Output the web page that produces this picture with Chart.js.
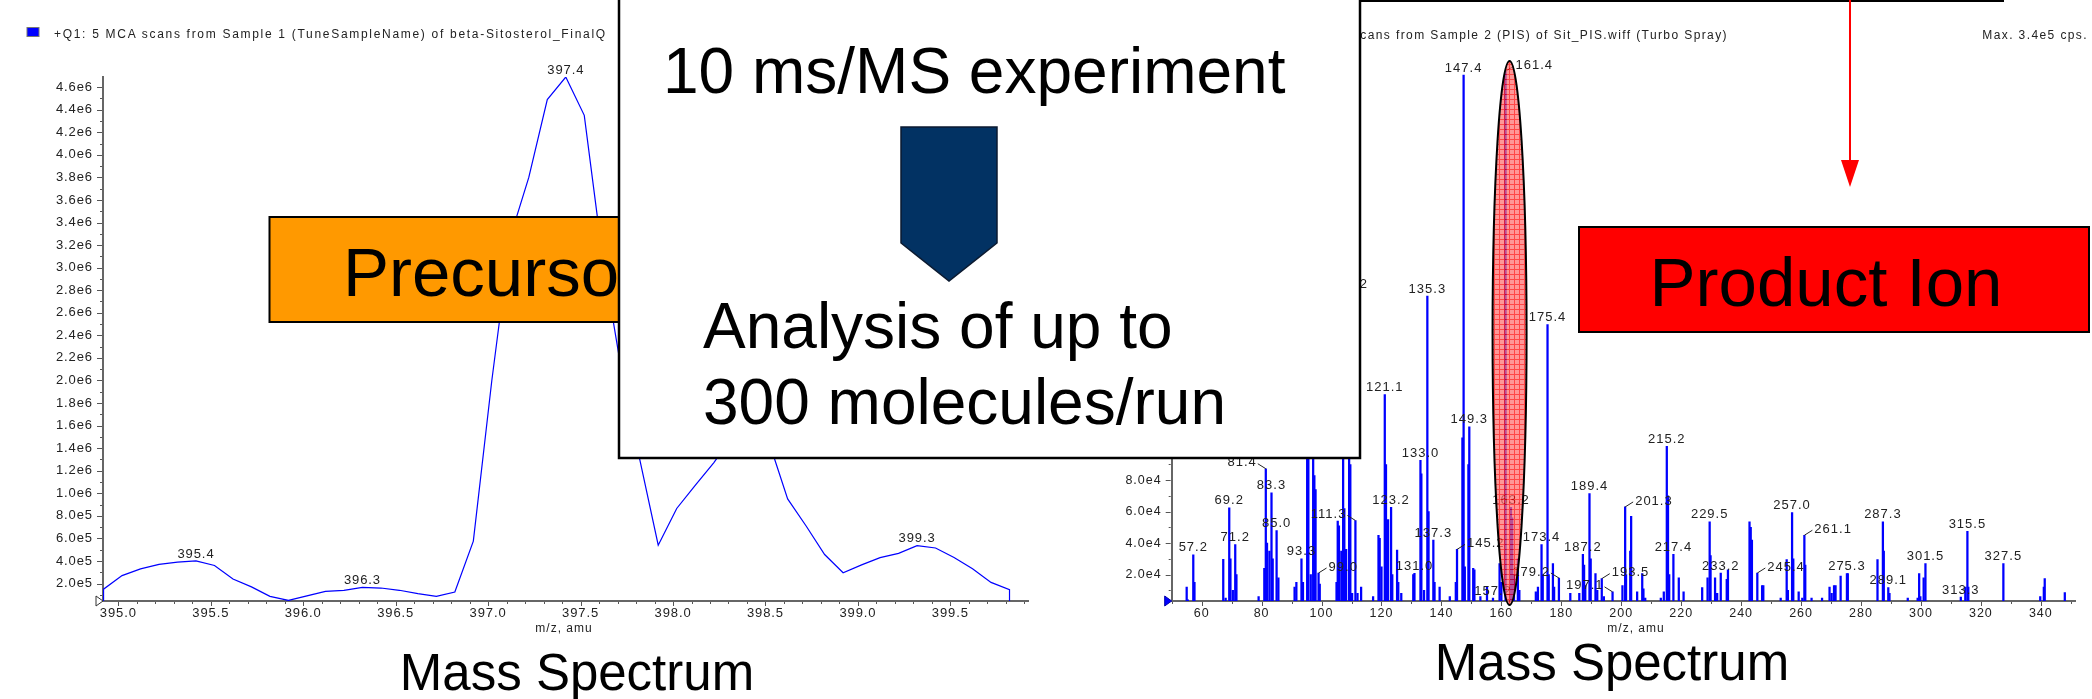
<!DOCTYPE html>
<html>
<head>
<meta charset="utf-8">
<script src="https://cdn.jsdelivr.net/npm/chart.js@4.4.0/dist/chart.umd.min.js"></script>
<style>
  html, body { margin: 0; padding: 0; background: #fff; }
  body { width: 2092px; height: 699px; position: relative; overflow: hidden; }
  canvas { position: absolute; top: 0; }
  #leftChart { left: 0; }
  #rightChart { left: 1050px; }
  #overlay { position: absolute; left: 0; top: 0; pointer-events: none; }
</style>
</head>
<body>
<canvas id="leftChart" width="1050" height="699"></canvas>
<canvas id="rightChart" width="1042" height="699"></canvas>

<svg id="overlay" width="2092" height="699" font-family="Liberation Sans, Arial, sans-serif">
  <!-- headers -->
  <rect x="27" y="27.5" width="12" height="9" fill="#0000ff" stroke="#777" stroke-width="1"/>
  <text x="54" y="37.5" font-size="12" letter-spacing="1.7" fill="#222">+Q1: 5 MCA scans from Sample 1 (TuneSampleName) of beta-Sitosterol_FinalQ</text>
  <text x="1728" y="39" font-size="12" letter-spacing="1.4" fill="#222" text-anchor="end">scans from Sample 2 (PIS) of Sit_PIS.wiff (Turbo Spray)</text>
  <text x="2088" y="39" font-size="12" letter-spacing="1.4" fill="#222" text-anchor="end">Max. 3.4e5 cps.</text>

  <!-- axis titles -->
  <text x="564" y="632" font-size="12" letter-spacing="1" fill="#222" text-anchor="middle">m/z, amu</text>
  <text x="1636" y="632" font-size="12" letter-spacing="1" fill="#222" text-anchor="middle">m/z, amu</text>
  <text x="577" y="690" font-size="51" fill="#000" text-anchor="middle">Mass Spectrum</text>
  <text x="1612" y="680" font-size="51" fill="#000" text-anchor="middle">Mass Spectrum</text>

  <!-- box above the canvas edge and the red arrow -->
  <rect x="1358" y="-1" width="646" height="3" fill="#000"/>
  <line x1="1850" y1="0" x2="1850" y2="164" stroke="#ff0000" stroke-width="2"/>
  <polygon points="1841,160 1859,160 1850,187" fill="#ff0000"/>

  <!-- product ion -->
  <rect x="1579" y="227" width="510" height="105" fill="#ff0000" stroke="#000" stroke-width="2"/>
  <text x="1826" y="306" font-size="69" fill="#000" text-anchor="middle">Product Ion</text>

  <!-- precursor ion -->
  <rect x="269.5" y="217" width="360" height="105" fill="#ff9900" stroke="#000" stroke-width="2"/>
  <text x="343" y="296" font-size="69" fill="#000">Precursor Ion</text>

  <!-- white callout -->
  <rect x="619" y="-10" width="741" height="468" fill="#fff" stroke="#000" stroke-width="2.5"/>
  <text x="663" y="93" font-size="64" fill="#000">10 ms/MS experiment</text>
  <polygon points="901,127 997,127 997,243 949,281 901,243" fill="#023263" stroke="#0b1a30" stroke-width="1.5"/>
  <text x="703" y="348" font-size="64" fill="#000">Analysis of up to</text>
  <text x="703" y="424" font-size="64" fill="#000">300 molecules/run</text>
</svg>

<script>
// ---- left: Q1 scan (profile) ----
const leftMz = [394.92, 394.92, 395.02, 395.12, 395.22, 395.32, 395.42, 395.52, 395.62, 395.72, 395.82,
  395.92, 396.02, 396.12, 396.22, 396.32, 396.42, 396.52, 396.62, 396.72, 396.82,
  396.92, 397.02, 397.12, 397.22, 397.32, 397.42, 397.52, 397.62, 397.72, 397.82,
  397.92, 398.02, 398.12, 398.22, 398.32, 398.42, 398.52, 398.62, 398.72, 398.82,
  398.92, 399.02, 399.12, 399.22, 399.32, 399.42, 399.52, 399.62, 399.72, 399.82, 399.82];
const leftIntensity = [0.045e6, 0.15e6, 0.27e6, 0.33e6, 0.37e6, 0.39e6, 0.40e6, 0.36e6, 0.24e6, 0.17e6, 0.086e6,
  0.05e6, 0.09e6, 0.13e6, 0.14e6, 0.165e6, 0.16e6, 0.14e6, 0.11e6, 0.086e6, 0.125e6,
  0.576e6, 2.0e6, 3.27e6, 3.80e6, 4.49e6, 4.69e6, 4.35e6, 3.08e6, 2.1e6, 1.3e6,
  0.54e6, 0.865e6, 1.07e6, 1.27e6, 1.5e6, 1.55e6, 1.45e6, 0.95e6, 0.71e6, 0.457e6,
  0.295e6, 0.365e6, 0.43e6, 0.467e6, 0.535e6, 0.515e6, 0.43e6, 0.33e6, 0.21e6, 0.145e6, 0.045e6];
const leftPeakMz = [395.42, 396.32, 397.42, 399.32];
const leftPeakText = ['395.4', '396.3', '397.4', '399.3'];
const leftXTicks = [395.0, 395.5, 396.0, 396.5, 397.0, 397.5, 398.0, 398.5, 399.0, 399.5];
const leftYTicks = [2e5, 4e5, 6e5, 8e5, 1.0e6, 1.2e6, 1.4e6, 1.6e6, 1.8e6, 2.0e6, 2.2e6, 2.4e6,
  2.6e6, 2.8e6, 3.0e6, 3.2e6, 3.4e6, 3.6e6, 3.8e6, 4.0e6, 4.2e6, 4.4e6, 4.6e6];

// ---- right: product ion scan (centroid sticks) ----
const rightMz = [55.0, 55.4, 57.2, 57.6, 67.2, 68.0, 69.2, 69.6, 70.4, 71.2, 71.6, 79.0, 80.9, 81.4, 81.8, 82.6,
  83.3, 83.7, 85.0, 85.6, 91.0, 91.6, 93.3, 93.8, 95.2, 95.6, 96.4, 97.2, 97.6, 98.0, 99.0, 99.4,
  105.0, 105.4, 105.8, 106.6, 107.2, 107.6, 108.2, 109.2, 109.6, 110.2, 111.3, 112.0, 113.2, 117.2,
  119.0, 119.4, 120.0, 121.1, 121.5, 122.2, 123.2, 123.6, 125.2, 125.6, 126.6, 130.6, 131.0, 133.0,
  133.3, 134.2, 135.3, 135.7, 137.3, 137.7, 139.4, 142.8, 144.8, 145.2, 147.0, 147.4, 147.8, 149.0,
  149.3, 150.6, 151.0, 153.0, 155.2, 157.2, 159.4, 160.0, 161.4, 163.2, 163.6, 164.2, 165.5, 166.0,
  171.5, 172.2, 173.4, 173.8, 175.4, 175.8, 177.2, 177.6, 179.2, 183.0, 186.0, 187.2, 187.6, 188.0,
  189.4, 189.8, 191.4, 192.0, 193.5, 194.2, 197.1, 200.4, 201.3, 201.6, 203.0, 203.3, 205.3, 207.0,
  207.4, 208.0, 213.2, 214.2, 215.2, 215.6, 216.0, 217.4, 219.2, 220.8, 227.0, 228.8, 229.5, 229.8,
  231.3, 232.0, 233.2, 235.2, 235.6, 242.8, 243.2, 243.6, 245.4, 247.0, 247.4, 253.2, 255.2, 255.6,
  257.0, 257.4, 259.2, 260.4, 261.1, 261.4, 263.5, 267.0, 269.5, 270.2, 271.0, 271.5, 273.2, 275.3,
  275.6, 285.5, 287.3, 287.6, 289.1, 289.5, 295.6, 298.9, 299.4, 299.8, 300.9, 301.5, 313.3, 314.8,
  315.5, 315.8, 327.5, 339.8, 341.0, 341.3, 348.0];
const rightIntensity = [1.2e4, 0.4e4, 3.25e4, 1.5e4, 2.97e4, 0.5e4, 6.24e4, 3.0e4, 1.0e4, 3.9e4, 2.0e4, 0.6e4, 2.4e4, 8.73e4, 4.0e4, 3.5e4,
  7.2e4, 3.0e4, 4.8e4, 1.8e4, 1.2e4, 1.5e4, 3.0e4, 1.5e4, 1.6e5, 1.0e5, 2.0e4, 1.35e5, 8.3e4, 7.4e4, 2.1e4, 1.4e4,
  1.5e4, 5.4e4, 5.1e4, 3.5e4, 1.2e5, 6.2e4, 3.6e4, 2.0e5, 9.0e4, 0.8e4, 5.44e4, 0.8e4, 1.2e4, 0.6e4,
  4.5e4, 4.3e4, 2.5e4, 1.344e5, 9.0e4, 5.5e4, 6.27e4, 2.0e4, 3.56e4, 1.5e4, 0.8e4, 2.0e4, 2.08e4, 9.27e4,
  8.4e4, 1.0e4, 1.97e5, 6.0e4, 4.2e4, 1.5e4, 1.2e4, 0.6e4, 1.5e4, 3.6e4, 1.07e5, 3.375e5, 2.5e4, 9.0e4,
  1.14e5, 2.4e4, 2.3e4, 0.6e4, 1.2e4, 0.5e4, 2.7e4, 1.5e4, 3.40e5, 6.27e4, 5.6e4, 2.0e4, 3.0e4, 1.0e4,
  0.9e4, 1.2e4, 3.9e4, 2.0e4, 1.79e5, 2.0e4, 2.7e4, 1.2e4, 1.78e4, 0.8e4, 0.8e4, 3.29e4, 2.6e4, 1.3e4,
  7.15e4, 3.0e4, 2.06e4, 1.0e4, 1.74e4, 0.6e4, 0.9e4, 1.3e4, 6.3e4, 2.0e4, 3.5e4, 5.7e4, 0.9e4, 2.06e4,
  1.1e4, 0.5e4, 0.5e4, 0.9e4, 1.016e5, 7.0e4, 2.0e4, 3.29e4, 1.8e4, 0.9e4, 1.17e4, 1.8e4, 5.35e4, 3.2e4,
  1.8e4, 0.8e4, 2.1e4, 1.7e4, 2.3e4, 5.35e4, 5.0e4, 4.2e4, 2.1e4, 1.3e4, 1.3e4, 0.5e4, 2.95e4, 1.0e4,
  5.94e4, 3.0e4, 0.9e4, 0.5e4, 4.5e4, 2.6e4, 0.5e4, 0.5e4, 1.2e4, 0.8e4, 1.3e4, 1.3e4, 1.9e4, 2.06e4,
  2.06e4, 2.95e4, 5.35e4, 3.5e4, 1.17e4, 0.8e4, 0.5e4, 0.5e4, 2.06e4, 0.6e4, 1.8e4, 2.7e4, 0.57e4, 1.2e4,
  4.75e4, 1.2e4, 2.7e4, 0.6e4, 1.2e4, 1.74e4, 0.85e4];
const rightPeakText = ['57.2', '69.2', '71.2', '81.4', '83.3', '85.0', '93.3', '99.0', '109.2', '111.3',
  '121.1', '123.2', '131.0', '133.0', '135.3', '137.3', '145.2', '147.4', '149.3', '157.2', '161.4',
  '163.2', '173.4', '175.4', '179.2', '187.2', '189.4', '193.5', '197.1', '201.3', '215.2', '217.4',
  '229.5', '233.2', '245.4', '257.0', '261.1', '275.3', '287.3', '289.1', '301.5', '313.3', '315.5', '327.5'];
const rightPeakMz = rightPeakText.map(parseFloat);
const leaderToLeft = ['81.4', '111.3', '179.2', '197.1'];
const leaderToRight = ['99.0', '145.2', '161.4', '193.5', '201.3', '245.4', '261.1'];
const rightXTicks = [60, 80, 100, 120, 140, 160, 180, 200, 220, 240, 260, 280, 300, 320, 340];
const rightYTicks = [2e4, 4e4, 6e4, 8e4, 1.0e5, 1.2e5, 1.4e5, 1.6e5, 1.8e5, 2.0e5, 2.2e5, 2.4e5,
  2.6e5, 2.8e5, 3.0e5, 3.2e5, 3.4e5];
const precursorMz = 161.4;

const FONT = 'Liberation Sans, Arial, sans-serif';
const INK = '#222';

function expLabel(v) {
  const e = Math.floor(Math.log10(v) + 1e-9);
  return (v / Math.pow(10, e)).toFixed(1) + 'e' + e;
}

function stepValues(step, min, max) {
  const out = [];
  for (let i = Math.ceil(min / step - 1e-9); i * step <= max + 1e-9; i++) out.push(+(i * step).toFixed(6));
  return out;
}
function isMajor(v, step) {
  return Math.abs(v / step - Math.round(v / step)) < 1e-6;
}

// short ticks (major/minor) and the little marker at the origin
function axisDecor(o) {
  return {
    id: 'axisDecor',
    beforeDraw(chart) { chart.ctx.letterSpacing = o.spacing; },
    afterDraw(chart) {
      const { ctx, chartArea: a, scales: { x, y } } = chart;
      ctx.save();
      ctx.strokeStyle = '#555';
      ctx.lineWidth = 1;
      ctx.beginPath();
      stepValues(o.xMinor, x.min, x.max).forEach(v => {
        const px = Math.round(x.getPixelForValue(v)) + 0.5;
        ctx.moveTo(px, a.bottom + 1);
        ctx.lineTo(px, a.bottom + (isMajor(v, o.xMajor) ? 5 : 3));
      });
      stepValues(o.yMinor, y.min, y.max).forEach(v => {
        const py = Math.round(y.getPixelForValue(v)) + 0.5;
        ctx.moveTo(a.left - 1, py);
        ctx.lineTo(a.left - (isMajor(v, o.yMajor) ? 6 : 3), py);
      });
      ctx.stroke();
      ctx.beginPath();
      ctx.moveTo(a.left - 7, a.bottom - 5);
      ctx.lineTo(a.left - 7, a.bottom + 5);
      ctx.lineTo(a.left, a.bottom);
      ctx.closePath();
      ctx.fillStyle = o.markerFill;
      ctx.fill();
      ctx.strokeStyle = o.markerStroke;
      ctx.stroke();
      ctx.restore();
    }
  };
}

function drawPeakLabels(chart, xs, ys, peakMz, peakText, font) {
  const { ctx, scales: { x, y } } = chart;
  const withLeaders = chart.canvas.id === 'rightChart';
  ctx.save();
  ctx.font = font;
  ctx.fillStyle = INK;
  ctx.strokeStyle = INK;
  ctx.lineWidth = 1;
  ctx.textBaseline = 'middle';
  peakMz.forEach((m, k) => {
    const i = xs.indexOf(m);
    if (i < 0) return;
    const px = x.getPixelForValue(m);
    const py = y.getPixelForValue(ys[i]);
    const t = peakText[k];
    if (withLeaders && leaderToLeft.includes(t)) {
      ctx.beginPath(); ctx.moveTo(px, py); ctx.lineTo(px - 8, py - 5); ctx.stroke();
      ctx.textAlign = 'right';
      ctx.fillText(t, px - 9, py - 6);
    } else if (withLeaders && leaderToRight.includes(t)) {
      ctx.beginPath(); ctx.moveTo(px, py); ctx.lineTo(px + 8, py - 5); ctx.stroke();
      ctx.textAlign = 'left';
      ctx.fillText(t, px + 10, py - 6);
    } else {
      ctx.textAlign = 'center';
      ctx.fillText(t, px, py - 7);
    }
  });
  ctx.restore();
}

function axisCommon(size, pad) {
  return {
    type: 'linear',
    offset: false,
    grid: { display: false, drawTicks: false },
    border: { display: true, color: '#666', width: 2 },
    ticks: { color: INK, font: { family: FONT, size: size }, padding: pad, autoSkip: false, maxRotation: 0, minRotation: 0 }
  };
}

// ---------- left chart ----------
const lx = axisCommon(13, 5);
Object.assign(lx, {
  min: 394.917, max: 399.92,
  afterBuildTicks: s => { s.ticks = leftXTicks.map(v => ({ value: v })); },
  afterFit: s => { s.height = 98; }
});
lx.ticks.callback = v => v.toFixed(1);
const ly = axisCommon(13, 10);
Object.assign(ly, {
  min: 4.5e4, max: 4.69e6,
  afterBuildTicks: s => { s.ticks = leftYTicks.map(v => ({ value: v })); },
  afterFit: s => { s.width = 103; }
});
ly.ticks.callback = v => expLabel(v);

new Chart(document.getElementById('leftChart'), {
  type: 'line',
  data: {
    datasets: [{
      data: leftMz.map((m, i) => ({ x: m, y: leftIntensity[i] })),
      borderColor: '#0000ff',
      borderWidth: 1.2,
      pointRadius: 0,
      tension: 0,
      fill: false
    }]
  },
  options: {
    responsive: false,
    animation: false,
    layout: { padding: { left: 0, right: 22, top: 77, bottom: 0 } },
    plugins: { legend: { display: false }, tooltip: { enabled: false } },
    scales: { x: lx, y: ly }
  },
  plugins: [
    axisDecor({ spacing: '0.9px', xMinor: 0.1, xMajor: 0.5, yMinor: 1e5, yMajor: 2e5, markerFill: '#fff', markerStroke: '#333' }),
    {
      id: 'leftLabels',
      afterDatasetsDraw(chart) {
        drawPeakLabels(chart, leftMz, leftIntensity, leftPeakMz, leftPeakText, '13px ' + FONT);
      }
    }
  ]
});

// ---------- right chart ----------
function hatchPattern(ctx) {
  const c = document.createElement('canvas');
  c.width = 5; c.height = 5;
  const p = c.getContext('2d');
  p.fillStyle = '#ff7070';
  p.fillRect(0, 0, 5, 5);
  p.fillStyle = '#ff0000';
  p.fillRect(4, 0, 1, 5);
  p.fillRect(0, 4, 5, 1);
  return ctx.createPattern(c, 'repeat');
}

const rx = axisCommon(12.5, 5);
Object.assign(rx, {
  min: 50, max: 351.4,
  afterBuildTicks: s => { s.ticks = rightXTicks.map(v => ({ value: v })); },
  afterFit: s => { s.height = 98; }
});
rx.ticks.callback = v => String(v);
const ry = axisCommon(12.5, 10);
Object.assign(ry, {
  min: 3.2e3, max: 3.408e5,
  afterBuildTicks: s => { s.ticks = rightYTicks.map(v => ({ value: v })); },
  afterFit: s => { s.width = 121.7; }
});
ry.ticks.callback = v => expLabel(v);

new Chart(document.getElementById('rightChart'), {
  type: 'bar',
  data: {
    datasets: [{
      data: rightMz.map((m, i) => ({ x: m, y: rightIntensity[i] })),
      backgroundColor: '#0000ff',
      barThickness: 1.6,
      grouped: false
    }]
  },
  options: {
    responsive: false,
    animation: false,
    layout: { padding: { left: 0, right: 17, top: 70, bottom: 0 } },
    plugins: { legend: { display: false }, tooltip: { enabled: false } },
    scales: { x: rx, y: ry }
  },
  plugins: [
    axisDecor({ spacing: '1px', xMinor: 10, xMajor: 20, yMinor: 1e4, yMajor: 2e4, markerFill: '#0000ff', markerStroke: '#0000aa' }),
    {
      id: 'rightLabels',
      afterDatasetsDraw(chart) {
        drawPeakLabels(chart, rightMz, rightIntensity, rightPeakMz, rightPeakText, '13px ' + FONT);
        // precursor highlight
        const { ctx, chartArea: a, scales: { x } } = chart;
        const cx = x.getPixelForValue(precursorMz) + 4;
        const top = a.top - 9, bottom = a.bottom + 4;
        ctx.save();
        ctx.beginPath();
        ctx.ellipse(cx, (top + bottom) / 2, 17, (bottom - top) / 2, 0, 0, Math.PI * 2);
        ctx.globalAlpha = 0.72;
        ctx.fillStyle = hatchPattern(ctx);
        ctx.fill();
        ctx.globalAlpha = 1;
        ctx.lineWidth = 2;
        ctx.strokeStyle = '#000';
        ctx.stroke();
        ctx.restore();
      }
    }
  ]
});
</script>
</body>
</html>
